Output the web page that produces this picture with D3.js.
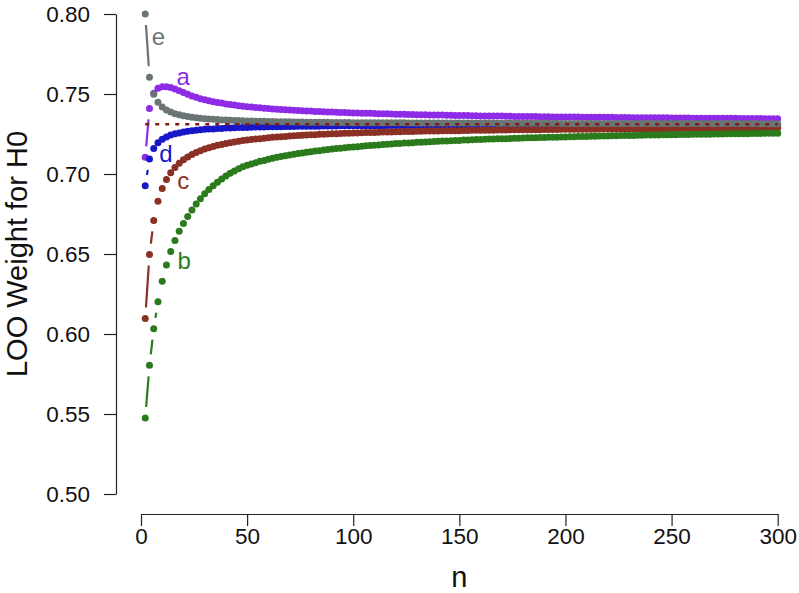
<!DOCTYPE html>
<html>
<head>
<meta charset="utf-8">
<script src="https://cdn.jsdelivr.net/npm/d3@7"></script>
<style>
  body { margin: 0; background: #fff; }
  svg { display: block; background: #fff; font-family: "Liberation Sans", Arial, Helvetica, sans-serif; }
</style>
</head>
<body>
<div id="chart"></div>
<script>
// sample sizes (every second n from 2 to 300)
var nValues = [
  2, 4, 6, 8, 10, 12, 14, 16, 18, 20, 22, 24, 26, 28, 30, 32, 34, 36, 38, 40,
  42, 44, 46, 48, 50, 52, 54, 56, 58, 60, 62, 64, 66, 68, 70, 72, 74, 76, 78, 80,
  82, 84, 86, 88, 90, 92, 94, 96, 98, 100, 102, 104, 106, 108, 110, 112, 114, 116, 118, 120,
  122, 124, 126, 128, 130, 132, 134, 136, 138, 140, 142, 144, 146, 148, 150, 152, 154, 156, 158, 160,
  162, 164, 166, 168, 170, 172, 174, 176, 178, 180, 182, 184, 186, 188, 190, 192, 194, 196, 198, 200,
  202, 204, 206, 208, 210, 212, 214, 216, 218, 220, 222, 224, 226, 228, 230, 232, 234, 236, 238, 240,
  242, 244, 246, 248, 250, 252, 254, 256, 258, 260, 262, 264, 266, 268, 270, 272, 274, 276, 278, 280,
  282, 284, 286, 288, 290, 292, 294, 296, 298, 300
];

var weightA = [
  .7104, .7410, .7505, .7536, .7545, .7545, .7540, .7532, .7521, .7509,
  .7498, .7488, .7479, .7471, .7464, .7458, .7452, .7447, .7443, .7438,
  .7435, .7431, .7427, .7424, .7421, .7419, .7416, .7414, .7411, .7409,
  .7407, .7405, .7403, .7402, .7400, .7398, .7397, .7395, .7394, .7393,
  .7391, .7390, .7389, .7388, .7387, .7386, .7385, .7384, .7383, .7382,
  .7381, .7380, .7379, .7379, .7378, .7377, .7376, .7376, .7375, .7374,
  .7373, .7373, .7372, .7372, .7371, .7370, .7370, .7369, .7369, .7368,
  .7368, .7367, .7367, .7366, .7366, .7365, .7365, .7364, .7364, .7363,
  .7363, .7363, .7362, .7362, .7362, .7361, .7361, .7360, .7360, .7360,
  .7359, .7359, .7359, .7358, .7358, .7358, .7357, .7357, .7357, .7357,
  .7356, .7356, .7356, .7355, .7355, .7355, .7355, .7354, .7354, .7354,
  .7354, .7353, .7353, .7353, .7353, .7352, .7352, .7352, .7352, .7352,
  .7351, .7351, .7351, .7351, .7350, .7350, .7350, .7350, .7350, .7349,
  .7349, .7349, .7349, .7349, .7349, .7348, .7348, .7348, .7348, .7348,
  .7347, .7347, .7347, .7347, .7347, .7347, .7346, .7346, .7346, .7346
];

var weightB = [
  .5475, .5804, .6033, .6201, .6330, .6432, .6515, .6584, .6642, .6691,
  .6734, .6775, .6813, .6846, .6876, .6903, .6927, .6949, .6969, .6987,
  .7004, .7019, .7033, .7046, .7055, .7063, .7071, .7079, .7085, .7092,
  .7098, .7104, .7109, .7114, .7119, .7123, .7128, .7132, .7136, .7139,
  .7143, .7146, .7150, .7153, .7156, .7159, .7161, .7164, .7167, .7169,
  .7171, .7174, .7176, .7178, .7180, .7182, .7184, .7186, .7188, .7190,
  .7191, .7193, .7194, .7196, .7198, .7199, .7200, .7202, .7203, .7204,
  .7206, .7207, .7208, .7209, .7210, .7212, .7213, .7214, .7215, .7216,
  .7217, .7218, .7219, .7220, .7221, .7221, .7222, .7223, .7224, .7225,
  .7226, .7226, .7227, .7228, .7228, .7229, .7230, .7230, .7231, .7232,
  .7233, .7233, .7234, .7235, .7235, .7236, .7236, .7237, .7238, .7238,
  .7239, .7239, .7240, .7240, .7241, .7241, .7242, .7242, .7243, .7243,
  .7244, .7244, .7245, .7245, .7246, .7246, .7247, .7247, .7247, .7248,
  .7248, .7249, .7249, .7249, .7250, .7250, .7250, .7251, .7251, .7251,
  .7252, .7252, .7252, .7253, .7253, .7253, .7254, .7254, .7254, .7255
];

var weightC = [
  .6097, .6497, .6709, .6829, .6909, .6966, .7008, .7041, .7067, .7089,
  .7107, .7122, .7135, .7146, .7156, .7164, .7172, .7179, .7185, .7191,
  .7196, .7200, .7205, .7209, .7212, .7215, .7219, .7221, .7224, .7227,
  .7229, .7231, .7233, .7235, .7237, .7239, .7241, .7242, .7244, .7245,
  .7246, .7248, .7249, .7250, .7251, .7252, .7253, .7254, .7255, .7256,
  .7257, .7258, .7259, .7260, .7260, .7261, .7262, .7262, .7263, .7264,
  .7264, .7265, .7266, .7266, .7267, .7267, .7268, .7268, .7269, .7269,
  .7270, .7270, .7271, .7271, .7271, .7272, .7272, .7273, .7273, .7273,
  .7274, .7274, .7274, .7275, .7275, .7275, .7276, .7276, .7276, .7276,
  .7277, .7277, .7277, .7277, .7278, .7278, .7278, .7278, .7279, .7279,
  .7279, .7279, .7280, .7280, .7280, .7280, .7280, .7281, .7281, .7281,
  .7281, .7281, .7281, .7282, .7282, .7282, .7282, .7282, .7283, .7283,
  .7283, .7283, .7283, .7283, .7283, .7284, .7284, .7284, .7284, .7284,
  .7284, .7284, .7285, .7285, .7285, .7285, .7285, .7285, .7285, .7285,
  .7286, .7286, .7286, .7286, .7286, .7286, .7286, .7286, .7286, .7287
];

var weightD = [
  .6927, .7094, .7160, .7195, .7217, .7232, .7243, .7251, .7257, .7263,
  .7267, .7271, .7274, .7276, .7279, .7281, .7282, .7284, .7285, .7287,
  .7288, .7289, .7290, .7291, .7291, .7292, .7293, .7293, .7294, .7295,
  .7295, .7296, .7296, .7297, .7297, .7297, .7298, .7298, .7298, .7299,
  .7299, .7299, .7300, .7300, .7300, .7300, .7301, .7301, .7301, .7301,
  .7302, .7302, .7302, .7302, .7302, .7302, .7302, .7303, .7303, .7303,
  .7303, .7303, .7303, .7303, .7303, .7303, .7303, .7304, .7304, .7304,
  .7304, .7304, .7304, .7304, .7304, .7304, .7304, .7304, .7304, .7304,
  .7305, .7305, .7305, .7305, .7305, .7305, .7305, .7305, .7305, .7305,
  .7305, .7305, .7305, .7305, .7305, .7306, .7306, .7306, .7306, .7306,
  .7306, .7306, .7306, .7306, .7306, .7306, .7306, .7306, .7306, .7306,
  .7306, .7306, .7307, .7307, .7307, .7307, .7307, .7307, .7307, .7307,
  .7307, .7307, .7307, .7307, .7307, .7307, .7307, .7307, .7307, .7307,
  .7307, .7307, .7307, .7307, .7307, .7308, .7308, .7308, .7308, .7308,
  .7308, .7308, .7308, .7308, .7308, .7308, .7308, .7308, .7308, .7308
];

var weightE = [
  .8000, .7605, .7498, .7448, .7419, .7400, .7387, .7377, .7370, .7364,
  .7359, .7355, .7351, .7348, .7346, .7344, .7342, .7340, .7338, .7337,
  .7336, .7335, .7334, .7333, .7332, .7331, .7330, .7330, .7329, .7328,
  .7328, .7327, .7327, .7326, .7326, .7325, .7325, .7325, .7324, .7324,
  .7324, .7323, .7323, .7323, .7322, .7322, .7322, .7322, .7322, .7321,
  .7321, .7321, .7321, .7321, .7320, .7320, .7320, .7320, .7320, .7320,
  .7320, .7320, .7319, .7319, .7319, .7319, .7319, .7319, .7319, .7319,
  .7319, .7319, .7319, .7318, .7318, .7318, .7318, .7318, .7318, .7318,
  .7318, .7318, .7318, .7317, .7317, .7317, .7317, .7317, .7317, .7317,
  .7317, .7317, .7317, .7317, .7317, .7317, .7317, .7317, .7316, .7316,
  .7316, .7316, .7316, .7316, .7316, .7316, .7316, .7316, .7316, .7316,
  .7316, .7316, .7316, .7316, .7316, .7316, .7316, .7316, .7315, .7315,
  .7315, .7315, .7315, .7315, .7315, .7315, .7315, .7315, .7315, .7315,
  .7315, .7315, .7315, .7315, .7315, .7315, .7315, .7315, .7315, .7315,
  .7315, .7315, .7315, .7315, .7315, .7314, .7314, .7314, .7314, .7314
];

var seriesNames = ["a", "b", "c", "d", "e"];
var limitWeight = 0.7311;
var xTicks = [0, 50, 100, 150, 200, 250, 300];
var yTicks = [0.50, 0.55, 0.60, 0.65, 0.70, 0.75, 0.80];

var LooChart = (function(){

  var width = 799;
  var height = 593;
  var x, y, svg;

  var colors = {a: "#8e2be6", b: "#2b7b1d", c: "#8b3024", d: "#1717c9", e: "#6b7474"};
  // where the little letter sits, in data units (n, weight)
  var labelAt = {a: [19.9, .7608], b: [20.3, .6463], c: [19.9, .6963], d: [11.8, .7129], e: [8.2, .7858]};
  var drawOrder = ["a", "d", "c", "b", "e"];
  var gap = 11;

  // R's type="b": segments between points, cut back around each point
  function gappedPath(pts){
    var p = d3.path();
    for (var i = 1; i < pts.length; i++){
      var x0 = pts[i-1][0], y0 = pts[i-1][1], x1 = pts[i][0], y1 = pts[i][1];
      var len = Math.hypot(x1 - x0, y1 - y0);
      if (len <= 2 * gap + 1) continue;
      var ux = (x1 - x0) / len, uy = (y1 - y0) / len;
      p.moveTo(x0 + ux * gap, y0 + uy * gap);
      p.lineTo(x1 - ux * gap, y1 - uy * gap);
    }
    return p.toString();
  }

  function setup(series){
    x = d3.scaleLinear().domain([0, 300]).range([141, 777.7]);
    y = d3.scaleLinear().domain([0.5, 0.8]).range([494, 14]);

    svg = d3.select("#chart").append("svg")
      .attr("width", width)
      .attr("height", height);

    // axes
    var yAxis = svg.append("g")
      .attr("class", "y axis")
      .attr("transform", "translate(116,0)")
      .call(d3.axisLeft(y)
        .tickValues(yTicks)
        .tickFormat(d3.format(".2f"))
        .tickSize(12)
        .tickSizeOuter(0)
        .tickPadding(14));

    var xAxis = svg.append("g")
      .attr("class", "x axis")
      .attr("transform", "translate(0,514)")
      .call(d3.axisBottom(x)
        .tickValues(xTicks)
        .tickSize(12)
        .tickSizeOuter(0)
        .tickPadding(2));

    svg.selectAll(".axis")
      .attr("font-family", null)
      .attr("font-size", null);
    svg.selectAll(".axis path, .axis line")
      .attr("stroke", "#222")
      .attr("stroke-width", 1.2);
    svg.selectAll(".axis text")
      .attr("fill", "#111")
      .style("font-size", "22.5px");

    svg.append("text")
      .attr("x", 459.4)
      .attr("y", 587)
      .attr("text-anchor", "middle")
      .style("font-size", "29px")
      .attr("fill", "#111")
      .text("n");

    svg.append("text")
      .attr("transform", "translate(27,254) rotate(-90)")
      .attr("text-anchor", "middle")
      .style("font-size", "29px")
      .attr("fill", "#111")
      .text("LOO Weight for H0");

    // series
    drawOrder.forEach(function(name){
      var vals = series[name];
      var pts = vals.map(function(v, i){ return [x(nValues[i]), y(v)]; });

      svg.append("path")
        .attr("d", gappedPath(pts))
        .attr("fill", "none")
        .attr("stroke", colors[name])
        .attr("stroke-width", 2.2)
        .attr("stroke-linecap", "butt");

      svg.append("g")
        .selectAll("circle")
        .data(vals)
        .enter()
        .append("circle")
        .attr("cx", function(d, i){ return x(nValues[i]); })
        .attr("cy", function(d){ return y(d); })
        .attr("r", 3.5)
        .attr("fill", colors[name]);
    });

    // limit line
    var limitLine = d3.line()
      .x(function(d){ return x(d); })
      .y(function(){ return y(limitWeight); });

    svg.append("path")
      .attr("d", limitLine([nValues[0], nValues[nValues.length - 1]]))
      .attr("fill", "none")
      .attr("stroke", "#7a1d16")
      .attr("stroke-width", 2.4)
      .attr("stroke-dasharray", "4,6");

    // letters
    seriesNames.forEach(function(name){
      svg.append("text")
        .attr("x", x(labelAt[name][0]))
        .attr("y", y(labelAt[name][1]))
        .attr("dy", "0.36em")
        .attr("text-anchor", "middle")
        .style("font-size", "24px")
        .attr("fill", colors[name])
        .text(name);
    });
  }

  return {
    setup: setup
  };
})();

LooChart.setup({a: weightA, b: weightB, c: weightC, d: weightD, e: weightE});
</script>
</body>
</html>
